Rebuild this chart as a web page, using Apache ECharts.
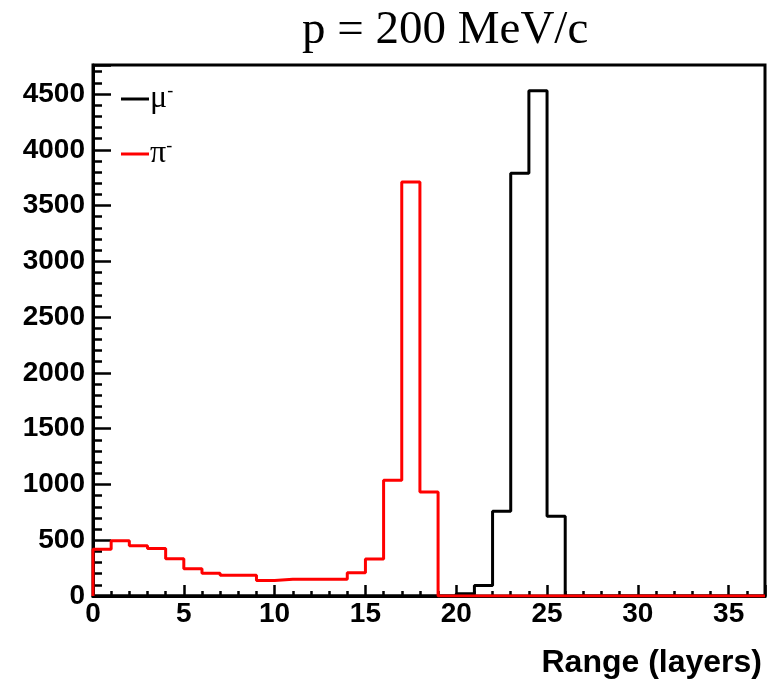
<!DOCTYPE html>
<html>
<head>
<meta charset="utf-8">
<script src="https://cdn.jsdelivr.net/npm/echarts@6/dist/echarts.min.js"></script>
<style>
html, body { margin: 0; padding: 0; background: #fff; }
#chart { width: 776px; height: 679px; }
</style>
</head>
<body>
<div id="chart"></div>
<script>
var chart = echarts.init(document.getElementById('chart'));

// one count per layer bin, bins 0..36 (width 1)
var muCounts = [0, 0, 0, 0, 0, 0, 0, 0, 0, 0,
	0, 0, 0, 0, 0, 0, 0, 0, 0, 0,
	20, 95, 760, 3790, 4530, 716, 0, 0, 0, 0,
	0, 0, 0, 0, 0, 0, 0];
var piCounts = [420, 495, 450, 425, 334, 244, 205, 185, 185, 138,
	150, 150, 150, 150, 208, 332, 1038, 3712, 933, 0,
	0, 0, 0, 0, 0, 0, 0, 0, 0, 0,
	0, 0, 0, 0, 0, 0, 0];
var xMax = 37;
var yMax = 4760;

// histogram outline: points at bin low edges, drawn with step 'end'
function histPoints(counts) {
	var pts = [[0, 0]];
	for (var i = 0; i < counts.length; i++) {
		pts.push([i, counts[i]]);
	}
	pts.push([counts.length, counts[counts.length - 1]]);
	return pts;
}

var axisFont = {
	fontFamily: 'Liberation Sans',
	fontWeight: 'bold',
	fontSize: 28,
	color: '#000',
	formatter: function(v) { return String(v); }
};

var option = {
	animation: false,
	title: [{
		text: 'p = 200 MeV/c',
		left: 297,
		top: 2,
		textStyle: {
			fontFamily: 'Liberation Serif',
			fontWeight: 'normal',
			fontSize: 47,
			color: '#000'
		}
	}, {
		text: 'Range (layers)',
		right: 9,
		top: 642,
		textStyle: {
			fontFamily: 'Liberation Sans',
			fontWeight: 'bold',
			fontSize: 32,
			color: '#000'
		}
	}],
	legend: {
		orient: 'vertical',
		left: 116,
		top: 77,
		itemGap: 22,
		itemWidth: 28,
		itemHeight: 3,
		icon: 'rect',
		data: ['mu', 'pi'],
		formatter: function(name) {
			return name == 'mu' ? '{g|μ}{s|-}' : '{g|π}{s|-}';
		},
		textStyle: {
			color: '#000',
			padding: [0, 0, 0, -4],
			rich: {
				g: {
					fontFamily: 'Liberation Serif',
					fontSize: 32,
					color: '#000'
				},
				s: {
					fontFamily: 'Liberation Serif',
					fontSize: 18,
					color: '#000',
					verticalAlign: 'top',
					padding: [0, 0, 16, 0]
				}
			}
		}
	},
	grid: {
		left: 93,
		right: 11,
		top: 65,
		bottom: 83,
		show: true,
		borderColor: '#000',
		borderWidth: 3
	},
	xAxis: {
		type: 'value',
		min: 0,
		max: xMax,
		interval: 5,
		axisLine: { lineStyle: { color: '#000', width: 3 } },
		axisTick: { inside: true, length: 11, lineStyle: { color: '#000', width: 2.5 } },
		minorTick: { show: true, splitNumber: 5, length: 5, lineStyle: { color: '#000', width: 2.5 } },
		splitLine: { show: false },
		axisLabel: Object.assign({ margin: 4, showMaxLabel: false }, axisFont)
	},
	yAxis: {
		type: 'value',
		min: 0,
		max: yMax,
		interval: 500,
		axisLine: { lineStyle: { color: '#000', width: 3 } },
		axisTick: { inside: true, length: 18, lineStyle: { color: '#000', width: 2.5 } },
		minorTick: { show: true, splitNumber: 5, length: 9, lineStyle: { color: '#000', width: 2.5 } },
		splitLine: { show: false },
		axisLabel: Object.assign({ margin: 8, showMaxLabel: false }, axisFont)
	},
	series: [{
		name: 'mu',
		type: 'line',
		step: 'end',
		showSymbol: false,
		color: '#000',
		lineStyle: { color: '#000', width: 3 },
		z: 2,
		data: histPoints(muCounts)
	}, {
		name: 'pi',
		type: 'line',
		step: 'end',
		showSymbol: false,
		color: '#ff0000',
		lineStyle: { color: '#ff0000', width: 3 },
		z: 3,
		data: histPoints(piCounts)
	}]
};
chart.setOption(option);
</script>
</body>
</html>
